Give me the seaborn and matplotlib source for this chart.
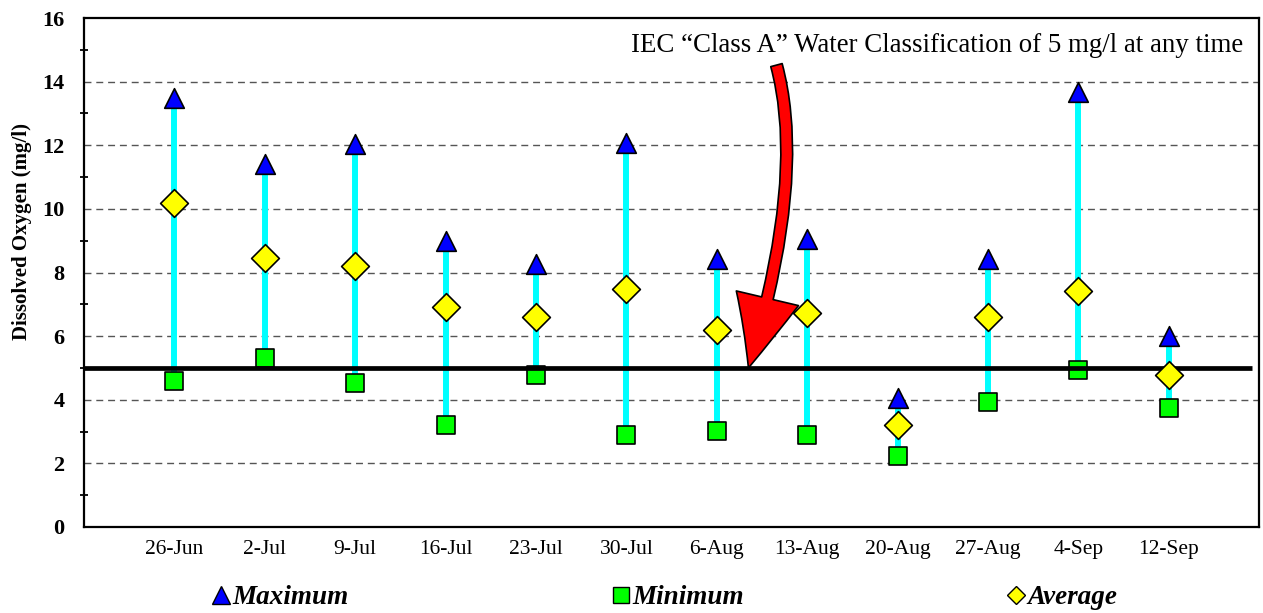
import matplotlib
matplotlib.use("Agg")
import matplotlib.pyplot as plt
from matplotlib.lines import Line2D
from matplotlib.patches import FancyArrowPatch
import seaborn as sns
import pandas as pd

# Weekly dissolved oxygen readings (mg/l)
dates = ["26-Jun", "2-Jul", "9-Jul", "16-Jul", "23-Jul", "30-Jul",
         "6-Aug", "13-Aug", "20-Aug", "27-Aug", "4-Sep", "12-Sep"]
maximum = [13.5, 11.4, 12.05, 9.0, 8.27, 12.07, 8.42, 9.05, 4.06, 8.42, 13.67, 6.0]
minimum = [4.6, 5.31, 4.53, 3.21, 4.78, 2.89, 3.02, 2.89, 2.23, 3.93, 4.94, 3.74]
average = [10.19, 8.46, 8.2, 6.92, 6.6, 7.48, 6.19, 6.73, 3.21, 6.6, 7.42, 4.78]
standard = 5.0
note = "IEC \u201cClass A\u201d Water Classification of 5 mg/l at any time"

df = pd.DataFrame({"date": dates, "max": maximum, "min": minimum, "avg": average})

sns.set_theme(style="white")
plt.rcParams["font.family"] = ["Liberation Serif", "DejaVu Serif"]
plt.rcParams["text.color"] = "black"
plt.rcParams["axes.labelcolor"] = "black"
plt.rcParams["xtick.color"] = "black"
plt.rcParams["ytick.color"] = "black"

fig = plt.figure(figsize=(12.63, 6.13), dpi=100)
ax = fig.add_axes([0.0665, 0.1403, 0.9305, 0.8303])

# range bars from minimum to maximum
ax.vlines(df["date"], df["min"], df["max"], colors="#00FFFF", linewidth=4.3, zorder=2)

sns.scatterplot(data=df, x="date", y="min", marker="s", s=150, color="#00FF00",
                edgecolor="black", linewidth=1.2, ax=ax, zorder=3)
# standard threshold line
ax.hlines(standard, -1, 11.92, colors="black", linewidth=3.4, zorder=4)
sns.scatterplot(data=df, x="date", y="avg", marker="D", s=200, color="#FFFF00",
                edgecolor="black", linewidth=1.2, ax=ax, zorder=5)
sns.scatterplot(data=df, x="date", y="max", marker="^", s=200, color="#0000FF",
                edgecolor="black", linewidth=1.2, ax=ax, zorder=6)

ax.set_xlim(-1, 12)
ax.set_ylim(0, 16)
ax.set_yticks(range(0, 17, 2))
ax.set_yticks(range(1, 16, 2), minor=True)
ax.set_xlabel("")
ax.set_ylabel("Dissolved Oxygen (mg/l)", fontsize=15, fontweight="bold")
ax.yaxis.set_label_coords(-0.0445, 0.58)

for y in range(2, 16, 2):
    ax.axhline(y, color="#555555", linewidth=1.0, linestyle=(0, (5, 3.5)), zorder=1)

for sp in ax.spines.values():
    sp.set_color("black")
    sp.set_linewidth(1.6)

ax.tick_params(axis="x", direction="inout", length=9, width=1.3,
               labelsize=15.5, pad=5)
ax.tick_params(axis="y", which="major", direction="out", length=5, width=1.3,
               labelsize=16, pad=9)
ax.tick_params(axis="y", which="minor", direction="inout", length=6, width=1.3, left=True)
for lab in ax.get_yticklabels():
    lab.set_fontweight("bold")

# annotation text and curved arrow pointing at the threshold
ax.text(11.82, 15.15, note, ha="right", va="center", fontsize=19.4)
arrow = FancyArrowPatch((6.66, 14.52), (6.35, standard),
                        connectionstyle="angle3,angleA=-75,angleB=73",
                        arrowstyle="simple,head_width=46,head_length=52,tail_width=8.5",
                        facecolor="#FF0000", edgecolor="black", linewidth=1.2,
                        shrinkA=0, shrinkB=0, zorder=7)
ax.add_patch(arrow)

# legend entries spread along the bottom
entries = [
    (Line2D([], [], marker="^", linestyle="none", markersize=12.5, markerfacecolor="#0000FF",
            markeredgecolor="black"), "Maximum", 214),
    (Line2D([], [], marker="s", linestyle="none", markersize=11, markerfacecolor="#00FF00",
            markeredgecolor="black"), "Minimum", 614),
    (Line2D([], [], marker="D", linestyle="none", markersize=9, markerfacecolor="#FFFF00",
            markeredgecolor="black"), "Average", 1009),
]
for handle, label, px in entries:
    fig.legend([handle], [label], loc="center left", bbox_to_anchor=(px / 1263, 1 - 598 / 613),
               frameon=False, borderpad=0, borderaxespad=0, handlelength=0.55,
               handletextpad=0.12, labelcolor="black",
               prop={"family": "Liberation Serif", "weight": "bold",
                     "style": "italic", "size": 19.5})

fig.savefig("out.png", dpi=100)
